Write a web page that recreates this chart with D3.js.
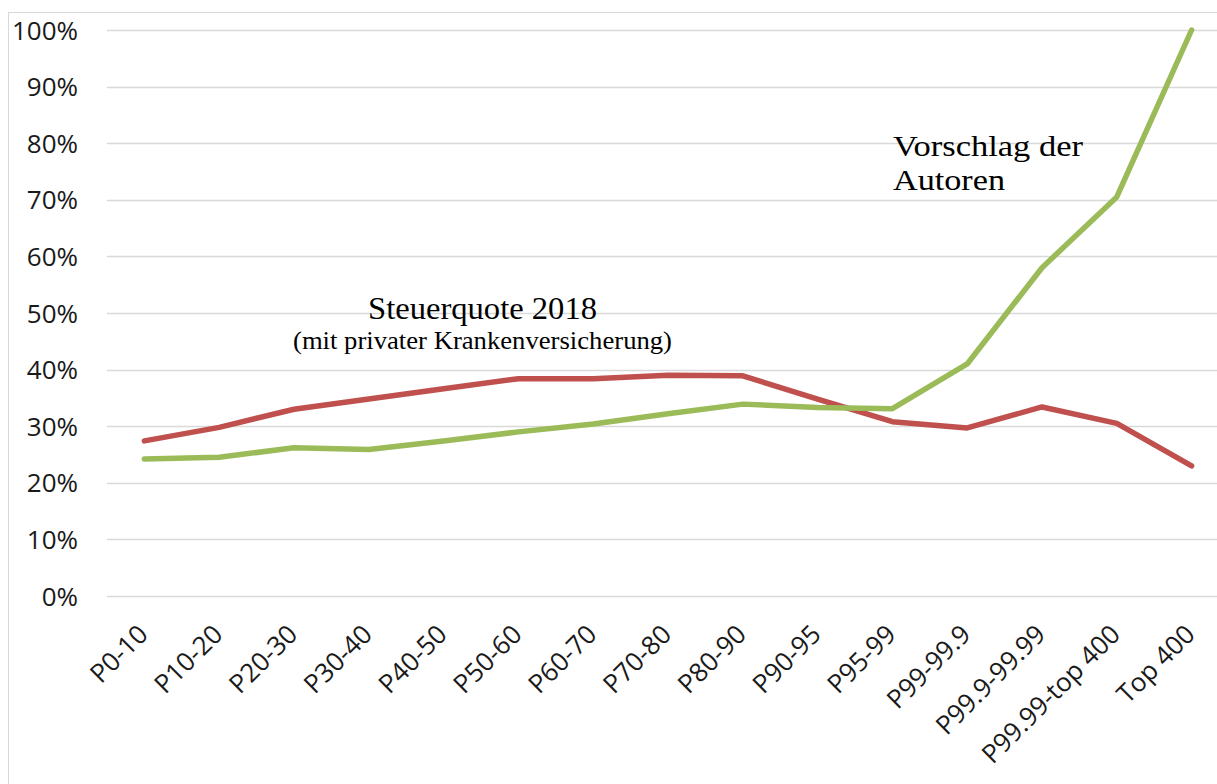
<!DOCTYPE html>
<html>
<head>
<meta charset="utf-8">
<script src="https://cdn.jsdelivr.net/npm/d3@7"></script>
<style>
  html, body { margin: 0; padding: 0; background: #fff; }
  svg { display: block; }
</style>
</head>
<body>
<svg id="chart" width="1217" height="784"></svg>
<script>
const categories = ["P0-10","P10-20","P20-30","P30-40","P40-50","P50-60","P60-70","P70-80","P80-90","P90-95","P95-99","P99-99.9","P99.9-99.99","P99.99-top 400","Top 400"];
const steuerquote2018 = [27.4, 29.8, 33.0, 34.8, 36.6, 38.4, 38.4, 39.0, 38.9, 34.8, 30.8, 29.7, 33.4, 30.5, 23.0];
const vorschlagAutoren = [24.2, 24.5, 26.2, 25.9, 27.4, 29.0, 30.4, 32.2, 33.9, 33.3, 33.1, 41.0, 58.0, 70.5, 100.0];
const yTicks = [0, 10, 20, 30, 40, 50, 60, 70, 80, 90, 100];

const svg = d3.select("#chart");
const W = 1217, H = 784;

// chart area frame
svg.append("rect").attr("x", 8.5).attr("y", 12.5).attr("width", W + 20).attr("height", H + 20)
  .attr("fill", "#fff").attr("stroke", "#d9d9d9").attr("stroke-width", 1);

const x = d3.scaleBand().domain(categories).range([107, 107 + 15 * 74.8]).padding(0);
const y = d3.scaleLinear().domain([0, 100]).range([596, 30]);
const cx = d => x(d) + x.bandwidth() / 2;

// gridlines
svg.append("g").selectAll("line").data(yTicks).join("line")
  .attr("x1", 107).attr("x2", W + 20)
  .attr("y1", d => Math.round(y(d)) + 0.5).attr("y2", d => Math.round(y(d)) + 0.5)
  .attr("stroke", "#d9d9d9").attr("stroke-width", 1.3);

// y axis labels
const yAxis = d3.axisLeft(y).tickValues(yTicks).tickSize(0).tickPadding(0).tickFormat(d => d + "%");
const gy = svg.append("g").attr("transform", "translate(78,0)").call(yAxis);
gy.select(".domain").remove();
gy.selectAll("text").attr("font-family", "'Open Sans', sans-serif").attr("font-size", 26)
  .attr("fill", "#1a1a1a").attr("x", 0).attr("dy", "0.35em").attr("text-anchor", "end");

// x axis labels
const xAxis = d3.axisBottom(x).tickSize(0).tickPadding(0);
const gx = svg.append("g").call(xAxis);
gx.select(".domain").remove();
gx.selectAll(".tick").attr("transform", d => `translate(${cx(d) + 5},636)`);
gx.selectAll("text").attr("font-family", "'Open Sans', sans-serif").attr("font-size", 26)
  .attr("fill", "#1a1a1a").attr("y", 0).attr("dy", 0).attr("text-anchor", "end")
  .attr("transform", "rotate(-45)");

// lines
const line = d3.line().x((d, i) => cx(categories[i])).y(d => y(d));
svg.append("path").datum(steuerquote2018).attr("d", line)
  .attr("fill", "none").attr("stroke", "#c0504d").attr("stroke-width", 5.5)
  .attr("stroke-linejoin", "round").attr("stroke-linecap", "round");
svg.append("path").datum(vorschlagAutoren).attr("d", line)
  .attr("fill", "none").attr("stroke", "#9bbb59").attr("stroke-width", 5.5)
  .attr("stroke-linejoin", "round").attr("stroke-linecap", "round");

// annotations
const serif = "'Liberation Serif', 'DejaVu Serif', serif";
svg.append("text").attr("x", 368).attr("y", 319)
  .attr("font-family", serif).attr("font-size", 32).attr("fill", "#000")
  .attr("textLength", 229).attr("lengthAdjust", "spacingAndGlyphs").text("Steuerquote 2018");
svg.append("text").attr("x", 293).attr("y", 349)
  .attr("font-family", serif).attr("font-size", 26).attr("fill", "#000")
  .attr("textLength", 379).attr("lengthAdjust", "spacingAndGlyphs").text("(mit privater Krankenversicherung)");
svg.append("text").attr("x", 893).attr("y", 156)
  .attr("font-family", serif).attr("font-size", 30).attr("fill", "#000")
  .attr("textLength", 190).attr("lengthAdjust", "spacingAndGlyphs").text("Vorschlag der");
svg.append("text").attr("x", 893).attr("y", 190)
  .attr("font-family", serif).attr("font-size", 30).attr("fill", "#000")
  .attr("textLength", 112).attr("lengthAdjust", "spacingAndGlyphs").text("Autoren");
</script>
</body>
</html>
